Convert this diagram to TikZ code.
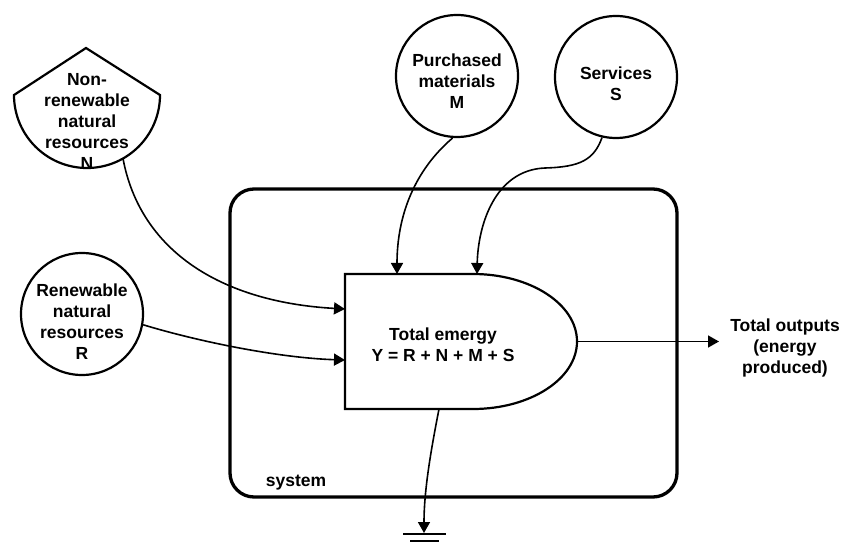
\documentclass[tikz,border=0pt]{standalone}
\usepackage{fontspec}
\setmainfont{Liberation Sans}
\usetikzlibrary{arrows.meta}
\begin{document}
\begin{tikzpicture}[x=1pt,y=-1pt,
  txt/.style={font=\bfseries\fontsize{17.5}{21}\selectfont, align=center, inner sep=0pt},
  src/.style={circle, draw, line width=2.2pt, minimum size=122pt, inner sep=0pt},
  flow/.style={line width=1.6pt, -{Triangle[length=11pt,width=12pt]}},
  proc/.style={line width=2.2pt},
  sysbox/.style={draw, line width=3.3pt, rounded corners=24pt, minimum width=447pt, minimum height=308pt, inner sep=0pt}
]
\useasboundingbox (0,0) rectangle (844,545);

% system boundary
\node[sysbox] (sys) at (453.5,343) {};
\node[txt] (syslbl) at (296,483) {system};

% non-renewable storage (tank)
\draw[proc] (14,95) -- (86,48) -- (160,95) arc[start angle=0, end angle=180, radius=73] -- cycle;
\node[txt] (Ntxt) at (87,121) {Non-\\renewable\\natural\\resources\\N};
\coordinate (Nout) at (123,158.5);

% sources
\node[src] (R) at (82,314) {};
\node[txt] (Rtxt) at (82,322) {Renewable\\natural\\resources\\R};
\node[src] (M) at (457,76) {};
\node[txt] (Mtxt) at (457,81) {Purchased\\materials\\M};
\node[src] (S) at (616,77) {};
\node[txt] (Stxt) at (616,84) {Services\\S};

% process
\draw[proc] (345,274) -- (473,274) arc[start angle=-90, end angle=90, x radius=104, y radius=67.5] -- (345,409) -- cycle;
\node[txt] (Y) at (443,345) {Total emergy\\Y = R + N + M + S};
\coordinate (pN) at (345,309);
\coordinate (pR) at (345,360);
\coordinate (pM) at (397,274);
\coordinate (pS) at (477,274);
\coordinate (pOut) at (577,341.5);
\coordinate (pBot) at (439,409);

% output
\node[txt] (out) at (785,348) {Total outputs\\(energy\\produced)};
\coordinate (outTip) at (719,341.5);
\coordinate (gnd) at (424,533);

% connectors
\draw[flow] (Nout) .. controls (140,250) and (220,302) .. (pN);
\draw[flow] (R.-10) .. controls (200,342) and (280,358) .. (pR);
\draw[flow] (M.-94) .. controls (415,170) and (397,215) .. (pM);
\draw[flow] (S.-103) .. controls (594,160) and (580,167) .. (545,168) .. controls (495,170) and (478,225) .. (pS);
\draw[flow] (pOut) -- (outTip);
\draw[flow] (pBot) .. controls (431,450) and (424,490) .. (gnd);

% heat sink (ground)
\draw[line width=2pt] (403,534) -- (446,534);
\draw[line width=2pt] (410,541) -- (439,541);
\end{tikzpicture}
\end{document}
